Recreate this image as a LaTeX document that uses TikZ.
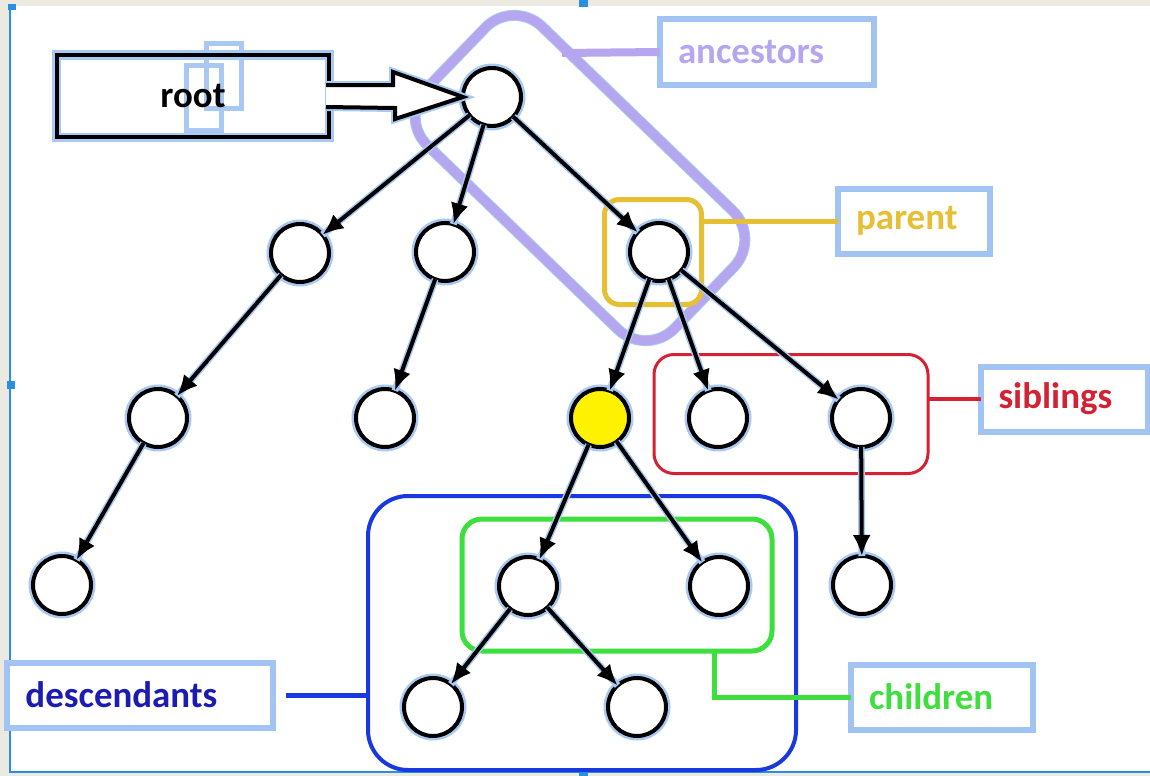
\documentclass[tikz,border=0pt]{standalone}
\usepackage{fontspec}
\setmainfont{Carlito}
\usetikzlibrary{arrows.meta,calc}
\definecolor{glow}{HTML}{A9C9F2}
\definecolor{tagblue}{HTML}{A2C4F2}
\definecolor{lav}{HTML}{B6A6F0}
\definecolor{gold}{HTML}{E6BF34}
\definecolor{sibred}{HTML}{D22234}
\definecolor{kidgreen}{HTML}{3DDF3D}
\definecolor{desblue}{HTML}{1838E0}
\definecolor{destext}{HTML}{1C1CB2}
\definecolor{framebg}{HTML}{ECE9E1}
\definecolor{handle}{HTML}{2A8FE0}
\definecolor{nodeyellow}{HTML}{FFF200}

\begin{document}
\begin{tikzpicture}[x=0.2mm,y=-0.2mm,
  vertex/.style={circle,draw=black,fill=white,line width=0.8mm,minimum size=11.6mm,inner sep=0,outer sep=0,preaction={draw=glow,line width=1.8mm}},
  link/.style={line width=0.8mm,-{Latex[length=4.2mm,width=3.6mm]},preaction={draw=glow,line width=1.4mm,-}},
  lbl/.style={draw=tagblue,fill=white,line width=1.2mm,inner xsep=3.6mm,inner ysep=0,outer sep=0,minimum height=13mm,align=left,font=\fontsize{21}{25}\selectfont\bfseries},
  grp/.style={rectangle,inner sep=0,outer sep=0}]
\useasboundingbox (0,0) rectangle (1150,776);
\fill[framebg] (0,0) rectangle (1150,776);
\fill[white] (10,6) rectangle (1150,772);
\draw[handle,line width=0.5mm] (10,6) -- (10,772) -- (1150,772);
\fill[handle] (8,4) rectangle (16,10);
\fill[handle] (579,0) rectangle (588,7);
\fill[handle] (7,381) rectangle (15,389);
\fill[handle] (579,768) rectangle (588,776);

\node[grp,draw=lav,line width=1.8mm,minimum width=69mm,minimum height=33mm,rounded corners=8mm,rotate=-44,preaction={draw=glow,line width=2.2mm}] (anc) at (580,178) {};
\node[grp,draw=desblue,line width=0.8mm,minimum width=85.6mm,minimum height=54.8mm,rounded corners=8mm] (des) at (582,633) {};
\node[grp,draw=kidgreen,line width=1mm,minimum width=62mm,minimum height=26.4mm,rounded corners=4mm] (chi) at (617,585) {};
\node[grp,draw=sibred,line width=0.6mm,minimum width=54.8mm,minimum height=23.8mm,rounded corners=4mm] (sib) at (791,414) {};
\node[grp,draw=gold,line width=1mm,minimum width=19.4mm,minimum height=21mm,rounded corners=3mm] (par) at (653,252) {};

\node[lbl,text width=35.6mm,text=lav] (anclbl) at (767,52) {ancestors};
\node[lbl,text width=23.2mm,text=gold] (parlbl) at (914,221) {parent};
\node[lbl,text width=26.2mm,text=sibred] (siblbl) at (1064,399) {siblings};
\node[lbl,text width=29.2mm,text=kidgreen] (chilbl) at (942,697) {children};
\node[lbl,text width=45.8mm,text=destext] (deslbl) at (140,695) {descendants};

\coordinate (ancjoin) at (562,53);
\draw[lav,line width=1.6mm] (ancjoin) -- (anclbl.west);
\draw[gold,line width=1mm] (par.east |- parlbl.west) -- (parlbl.west);
\draw[sibred,line width=0.8mm] (sib.east |- siblbl.west) -- (siblbl.west);
\draw[kidgreen,line width=1mm] ($(chi.south)+(97,0)$) |- (chilbl.west);
\draw[desblue,line width=1mm] ($(deslbl.east)+(13,0)$) -- (des.west |- deslbl.east);

\node[vertex] (top) at (492,97) {};
\node[vertex] (a) at (300,253) {};
\node[vertex] (b) at (445,252) {};
\node[vertex] (p) at (659,252) {};
\node[vertex] (c) at (158,418) {};
\node[vertex] (d) at (385,418) {};
\node[vertex,fill=nodeyellow] (me) at (600,418) {};
\node[vertex] (s1) at (718,418) {};
\node[vertex] (s2) at (861,418) {};
\node[vertex] (e) at (62,585) {};
\node[vertex] (k1) at (528,586) {};
\node[vertex] (k2) at (719,586) {};
\node[vertex] (f) at (862,585) {};
\node[vertex] (g1) at (433,707) {};
\node[vertex] (g2) at (637,707) {};

\draw[link] (top) -- (a);
\draw[link] (top) -- (b);
\draw[link] (top) -- (p);
\draw[link] (a) -- (c);
\draw[link] (b) -- (d);
\draw[link] (c) -- (e);
\draw[link] (p) -- (me);
\draw[link] (p) -- (s1);
\draw[link] (p) -- (s2);
\draw[link] (s2) -- (f);
\draw[link] (me) -- (k1);
\draw[link] (me) -- (k2);
\draw[link] (k1) -- (g1);
\draw[link] (k1) -- (g2);

\draw[glow,line width=1mm] (186,65) rectangle (221,130);
\draw[glow,line width=1mm] (206,43) rectangle (241,108);
\node[grp,draw=black,line width=0.8mm,minimum width=54.4mm,minimum height=16.4mm,font=\fontsize{21}{25}\selectfont\bfseries,preaction={draw=glow,line width=1.8mm}] (rootlbl) at (193,96) {root};
\path[draw=black,fill=white,line width=0.8mm,preaction={draw=glow,line width=1.6mm}] ($(rootlbl.east)+(-3,-11)$) -- ++(67,0) -- ++(0,-13) -- (top.west) -- ++(-68,22) -- ++(0,-11) -- ($(rootlbl.east)+(-3,11)$);
\end{tikzpicture}
\end{document}
